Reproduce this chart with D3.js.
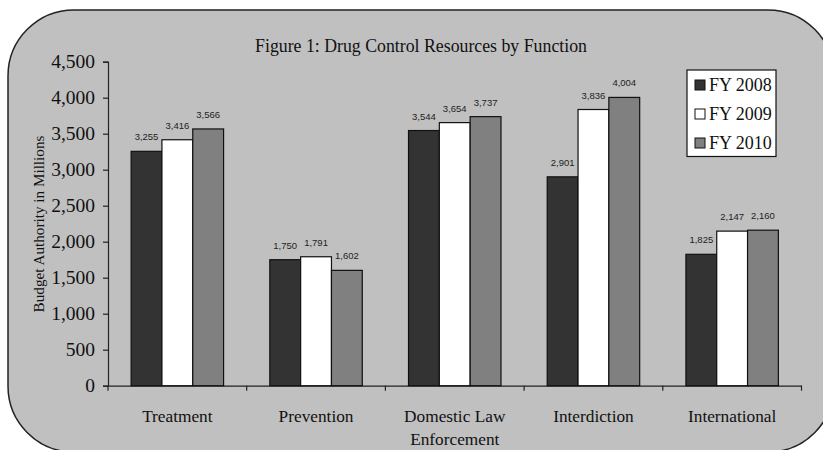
<!DOCTYPE html>
<html><head><meta charset="utf-8">
<script src="https://cdn.jsdelivr.net/npm/d3@7"></script>
<style>body{margin:0;background:#fff}svg{display:block}</style>
</head><body>
<script>
const categories = [["Treatment"], ["Prevention"], ["Domestic Law", "Enforcement"], ["Interdiction"], ["International"]];
const seriesNames = ["FY 2008", "FY 2009", "FY 2010"];
const fy2008 = [3255, 1750, 3544, 2901, 1825];
const fy2009 = [3416, 1791, 3654, 3836, 2147];
const fy2010 = [3566, 1602, 3737, 4004, 2160];
const yTicks = [0, 500, 1000, 1500, 2000, 2500, 3000, 3500, 4000, 4500];
const colors = ["#333333", "#ffffff", "#808080"];
const series = [fy2008, fy2009, fy2010];

const W = 823, H = 450;
const svg = d3.select("body").append("svg").attr("width", W).attr("height", H);
const serif = "'Liberation Serif', 'DejaVu Serif', serif";

svg.append("rect").attr("x", 8).attr("y", 10).attr("width", 826).attr("height", 442)
  .attr("rx", 66).attr("ry", 66).attr("fill", "#c0c0c0").attr("stroke", "#222").attr("stroke-width", 1.5);

svg.append("text").attr("x", 421).attr("y", 52).attr("text-anchor", "middle")
  .attr("font-family", serif).attr("font-size", 17.8).attr("fill", "#111")
  .text("Figure 1: Drug Control Resources by Function");

const x0 = 108, x1 = 801.5, yBase = 385.7, yTop = 61.7;
const keys = categories.map(c => c.join(" "));
const x = d3.scaleBand().domain(keys).range([x0, x1]).paddingInner(0).paddingOuter(0);
const xs = d3.scaleBand().domain(seriesNames).range([x.bandwidth() / 6, x.bandwidth() * 5 / 6]).padding(0);
const y = d3.scaleLinear().domain([0, 4500]).range([yBase, yTop]);

// y axis
const yAxis = svg.append("g").attr("transform", `translate(${x0},0)`)
  .call(d3.axisLeft(y).tickValues(yTicks).tickSize(5).tickPadding(8).tickFormat(d3.format(",")));
yAxis.select(".domain").attr("stroke", "#222").attr("stroke-width", 1.2);
yAxis.selectAll(".tick line").attr("stroke", "#222").attr("stroke-width", 1.2);
yAxis.selectAll("text").attr("font-family", serif).attr("font-size", 19.5).attr("fill", "#111");

// x axis
const xAxis = svg.append("g").attr("transform", `translate(0,${yBase})`)
  .call(d3.axisBottom(x).tickSize(0).tickFormat(""));
xAxis.select(".domain").attr("stroke", "#222").attr("stroke-width", 1.2);
const bounds = keys.map(k => x(k)).concat([x1]);
xAxis.selectAll(".sep").data(bounds).enter().append("line")
  .attr("x1", d => d).attr("x2", d => d).attr("y1", 0).attr("y2", 5)
  .attr("stroke", "#222").attr("stroke-width", 1.2);

// x labels
categories.forEach((lines, i) => {
  const t = svg.append("text").attr("x", x(keys[i]) + x.bandwidth() / 2).attr("y", 421.5)
    .attr("text-anchor", "middle").attr("font-family", serif).attr("font-size", 17.3).attr("fill", "#111");
  lines.forEach((l, j) => t.append("tspan").attr("x", x(keys[i]) + x.bandwidth() / 2).attr("dy", j ? 23.5 : 0).text(l));
});

// y title
svg.append("text").attr("transform", "translate(44,224) rotate(-90)").attr("text-anchor", "middle")
  .attr("font-family", serif).attr("font-size", 15.2).attr("fill", "#111").text("Budget Authority in Millions");

// bars
const data = [];
keys.forEach((k, i) => series.forEach((s, j) => data.push({ k, s: seriesNames[j], v: s[i], c: colors[j] })));
svg.append("g").selectAll("rect").data(data).enter().append("rect")
  .attr("x", d => x(d.k) + xs(d.s)).attr("width", xs.bandwidth())
  .attr("y", d => y(d.v)).attr("height", d => yBase - y(d.v))
  .attr("fill", d => d.c).attr("stroke", "#111").attr("stroke-width", 1.2);

svg.append("g").selectAll("text").data(data).enter().append("text")
  .attr("x", d => x(d.k) + xs(d.s) + xs.bandwidth() / 2).attr("y", d => y(d.v) - 11)
  .attr("text-anchor", "middle").attr("font-family", "'Liberation Sans', Arial, sans-serif")
  .attr("font-size", 9.5).attr("fill", "#222").text(d => d3.format(",")(d.v));

// legend
const lg = svg.append("g");
lg.append("rect").attr("x", 687).attr("y", 70).attr("width", 89).attr("height", 86.5)
  .attr("fill", "#fff").attr("stroke", "#111").attr("stroke-width", 1.2);
seriesNames.forEach((n, j) => {
  const cy = 85 + j * 29;
  lg.append("rect").attr("x", 695).attr("y", cy - 5).attr("width", 10).attr("height", 10)
    .attr("fill", colors[j]).attr("stroke", "#111").attr("stroke-width", 1);
  lg.append("text").attr("x", 709).attr("y", cy + 6).attr("font-family", serif).attr("font-size", 18)
    .attr("fill", "#111").text(n);
});
</script>
</body></html>
